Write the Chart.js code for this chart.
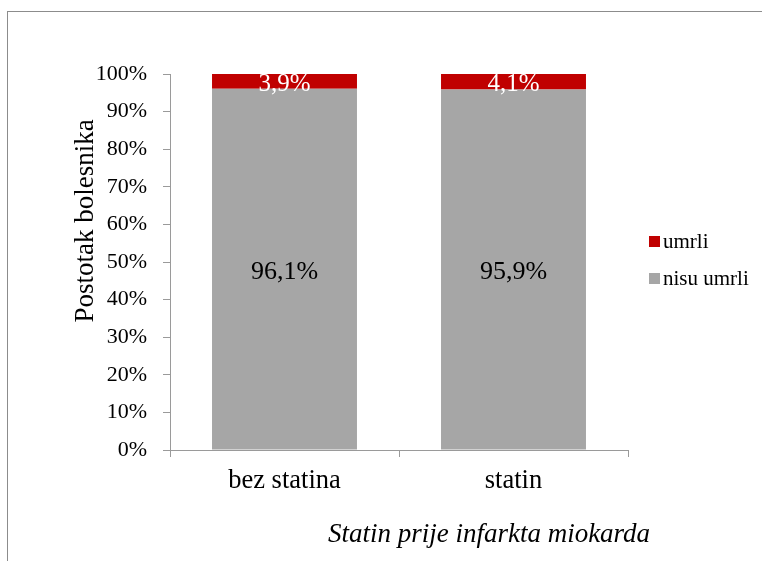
<!DOCTYPE html>
<html>
<head>
<meta charset="utf-8">
<script src="https://cdn.jsdelivr.net/npm/chart.js@4/dist/chart.umd.min.js"></script>
<style>
  html, body { margin: 0; padding: 0; background: #fff; overflow: hidden; }
  #wrap { position: relative; width: 762px; height: 561px; overflow: hidden; }
  #frame { position: absolute; left: 7px; top: 11px; width: 800px; height: 600px; border: 1px solid #8c8c8c; box-sizing: border-box; }
  #chartCanvas { position: absolute; left: 0; top: 0; }
</style>
</head>
<body>
<div id="wrap">
  <div id="frame"></div>
  <canvas id="chartCanvas" width="762" height="561"></canvas>
</div>
<script>
// Chart data
const categories = ['bez statina', 'statin'];
const nisuUmrli = [96.1, 95.9];
const umrli = [3.9, 4.1];
const seriesNames = ['nisu umrli', 'umrli'];
const yTitle = 'Postotak bolesnika';
const xTitle = 'Statin prije infarkta miokarda';

const SERIF = '"Liberation Serif", "Times New Roman", serif';
const axisGray = '#9a9a9a';

function pct(v) {
  return v.toFixed(1).replace('.', ',') + '%';
}

// value labels in the middle of every segment
const segmentLabels = {
  id: 'segmentLabels',
  afterDatasetsDraw(chart) {
    const ctx = chart.ctx;
    ctx.save();
    ctx.textAlign = 'center';
    ctx.textBaseline = 'alphabetic';
    chart.data.datasets.forEach((ds, i) => {
      const meta = chart.getDatasetMeta(i);
      const size = i === 1 ? 25 : 26;
      ctx.font = size + 'px ' + SERIF;
      ctx.fillStyle = i === 1 ? '#ffffff' : '#000000';
      meta.data.forEach((bar, j) => {
        const mid = (bar.y + bar.base) / 2;
        ctx.fillText(pct(ds.data[j]), bar.x, mid + 0.37 * size);
      });
    });
    ctx.restore();
  }
};

// axis titles and legend, placed like the original sheet
const extras = {
  id: 'extras',
  afterDraw(chart) {
    const ctx = chart.ctx;
    ctx.save();
    ctx.fillStyle = '#000';
    ctx.textBaseline = 'alphabetic';

    // y title
    ctx.font = '27px ' + SERIF;
    ctx.textAlign = 'center';
    ctx.save();
    ctx.translate(93, 221);
    ctx.rotate(-Math.PI / 2);
    ctx.fillText(yTitle, 0, 0);
    ctx.restore();

    // x title
    ctx.font = 'italic 27px ' + SERIF;
    ctx.fillText(xTitle, 489, 542);

    // legend (top series first)
    ctx.textAlign = 'left';
    ctx.font = '21px ' + SERIF;
    const items = chart.data.datasets.slice().reverse();
    items.forEach((ds, k) => {
      const top = 236 + k * 37;
      ctx.fillStyle = ds.backgroundColor;
      ctx.fillRect(649, top, 11, 11);
      ctx.fillStyle = '#000';
      ctx.fillText(ds.label, 663, top + 12);
    });
    ctx.restore();
  }
};

const ctx = document.getElementById('chartCanvas').getContext('2d');
new Chart(ctx, {
  type: 'bar',
  data: {
    labels: categories,
    datasets: [
      { label: seriesNames[0], data: nisuUmrli, backgroundColor: '#a6a6a6', borderWidth: 0 },
      { label: seriesNames[1], data: umrli, backgroundColor: '#c00000', borderWidth: 0 }
    ]
  },
  options: {
    responsive: false,
    animation: false,
    layout: { padding: { left: 0, top: 74, right: 134, bottom: 0 } },
    datasets: { bar: { categoryPercentage: 1, barPercentage: 0.633 } },
    scales: {
      x: {
        stacked: true,
        afterFit: function(scale) { scale.height = 111; },
        grid: { display: true, offset: true, drawOnChartArea: false, tickLength: 7, color: axisGray },
        border: { display: true, color: axisGray, width: 1 },
        ticks: { color: '#000', padding: 8, font: { family: SERIF, size: 26.5 } }
      },
      y: {
        stacked: true,
        min: 0,
        max: 100,
        afterFit: function(scale) { scale.width = 170; },
        grid: { display: true, drawOnChartArea: false, tickLength: 7, color: axisGray },
        border: { display: true, color: axisGray, width: 1 },
        ticks: {
          stepSize: 10,
          color: '#000',
          padding: 16,
          font: { family: SERIF, size: 22 },
          callback: function(v) { return v + '%'; }
        }
      }
    },
    plugins: {
      legend: { display: false },
      tooltip: { enabled: false }
    }
  },
  plugins: [segmentLabels, extras]
});
</script>
</body>
</html>
